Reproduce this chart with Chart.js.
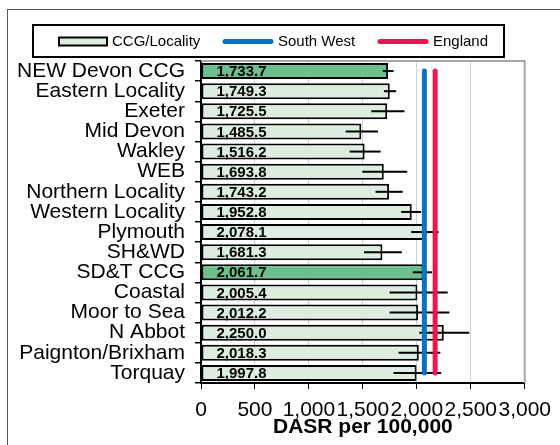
<!DOCTYPE html>
<html>
<head>
<meta charset="utf-8">
<script src="https://cdn.jsdelivr.net/npm/chart.js@4.4.1/dist/chart.umd.min.js"></script>
<style>
  html, body { margin: 0; padding: 0; background: #fff; }
  #wrap { width: 560px; height: 445px; }
</style>
</head>
<body>
<div id="wrap"><canvas id="myChart" width="560" height="445"></canvas></div>
<script>
const categories = [
  "NEW Devon CCG", "Eastern Locality", "Exeter", "Mid Devon", "Wakley", "WEB",
  "Northern Locality", "Western Locality", "Plymouth", "SH&WD", "SD&T CCG",
  "Coastal", "Moor to Sea", "N Abbot", "Paignton/Brixham", "Torquay"
];
const rateValues = [
  1733.7, 1749.3, 1725.5, 1485.5, 1516.2, 1693.8, 1743.2, 1952.8,
  2078.1, 1681.3, 2061.7, 2005.4, 2012.2, 2250.0, 2018.3, 1997.8
];
// confidence interval ends
const ciLower = [
  1685, 1695, 1578, 1341, 1378, 1495, 1618, 1855,
  1947, 1510, 1963, 1748, 1748, 2024, 1831, 1784
];
const ciUpper = [
  1785, 1809, 1886, 1640, 1664, 1911, 1870, 2040,
  2203, 1861, 2142, 2286, 2301, 2486, 2218, 2225
];
const southWest = [
  2070, 2070, 2070, 2070, 2070, 2070, 2070, 2070,
  2070, 2070, 2070, 2070, 2070, 2070, 2070, 2070
];
const england = [
  2170, 2170, 2170, 2170, 2170, 2170, 2170, 2170,
  2170, 2170, 2170, 2170, 2170, 2170, 2170, 2170
];
const ccgRows = ["NEW Devon CCG", "SD&T CCG"];

const lightGreen = "#DDEEE0";
const darkGreen = "#6CC08E";
const swBlue = "#0A72C4";
const engRed = "#E8174F";
const fontFam = '"Liberation Sans", Arial, sans-serif';

const fmt = (v) =>
  v.toLocaleString("en-US", { minimumFractionDigits: 1, maximumFractionDigits: 1 });

// outer frame + plot area edges
const frame = {
  id: "frame",
  beforeDraw(chart) {
    const ctx = chart.ctx;
    ctx.save();
    ctx.fillStyle = "#fff";
    ctx.fillRect(0, 0, chart.width, chart.height);
    ctx.strokeStyle = "#595959";
    ctx.lineWidth = 1;
    ctx.strokeRect(7.5, 9.5, 700, 600);
    ctx.restore();
  },
  beforeDatasetsDraw(chart) {
    const a = chart.chartArea;
    const ctx = chart.ctx;
    ctx.save();
    ctx.strokeStyle = "#a6a6a6";
    ctx.lineWidth = 2;
    ctx.beginPath();
    ctx.moveTo(a.left, a.top);
    ctx.lineTo(a.right, a.top);
    ctx.lineTo(a.right, a.bottom);
    ctx.stroke();
    ctx.restore();
  }
};

// whiskers and value labels, drawn right after the bars
const errorBars = {
  id: "errorBars",
  afterDatasetDraw(chart, args) {
    if (args.index !== 0) return;
    const ctx = chart.ctx;
    const x = chart.scales.x;
    const bars = args.meta.data;
    ctx.save();
    ctx.strokeStyle = "#000";
    ctx.lineWidth = 2;
    bars.forEach((bar, i) => {
      ctx.beginPath();
      ctx.moveTo(x.getPixelForValue(ciLower[i]), bar.y);
      ctx.lineTo(x.getPixelForValue(ciUpper[i]), bar.y);
      ctx.stroke();
    });
    ctx.font = "bold 15px " + fontFam;
    ctx.fillStyle = "#000";
    ctx.textBaseline = "middle";
    ctx.textAlign = "left";
    bars.forEach((bar, i) => {
      ctx.fillText(fmt(rateValues[i]), bar.base + 15, bar.y + 1);
    });
    ctx.restore();
  }
};

// boxed legend across the top
const boxLegend = {
  id: "boxLegend",
  afterDraw(chart) {
    const ctx = chart.ctx;
    const ds = chart.data.datasets;
    const cy = 41.5;
    ctx.save();
    ctx.fillStyle = "#fff";
    ctx.fillRect(33, 25, 471, 32);
    ctx.strokeStyle = "#000";
    ctx.lineWidth = 2;
    ctx.strokeRect(33, 25, 471, 32);

    ctx.fillStyle = lightGreen;
    ctx.fillRect(59, 37.5, 48, 8);
    ctx.strokeRect(59, 37.5, 48, 8);

    ctx.lineCap = "round";
    ctx.lineWidth = 5;
    ctx.strokeStyle = ds[1].borderColor;
    ctx.beginPath(); ctx.moveTo(225, cy); ctx.lineTo(271, cy); ctx.stroke();
    ctx.strokeStyle = ds[2].borderColor;
    ctx.beginPath(); ctx.moveTo(380, cy); ctx.lineTo(426, cy); ctx.stroke();

    ctx.font = "15px " + fontFam;
    ctx.fillStyle = "#000";
    ctx.textBaseline = "middle";
    ctx.fillText(ds[0].label, 112, cy);
    ctx.fillText(ds[1].label, 278, cy);
    ctx.fillText(ds[2].label, 433, cy);
    ctx.restore();
  }
};

const data = {
  labels: categories,
  datasets: [
    {
      type: "bar",
      label: "CCG/Locality",
      data: rateValues,
      backgroundColor: categories.map((c) => (ccgRows.includes(c) ? darkGreen : lightGreen)),
      borderColor: "#000",
      borderWidth: 2,
      borderSkipped: false,
      categoryPercentage: 1,
      barPercentage: 0.8,
      order: 3
    },
    {
      type: "line",
      label: "South West",
      data: southWest,
      borderColor: swBlue,
      borderWidth: 5,
      borderCapStyle: "round",
      pointRadius: 0,
      fill: false,
      order: 2
    },
    {
      type: "line",
      label: "England",
      data: england,
      borderColor: engRed,
      borderWidth: 5,
      borderCapStyle: "round",
      pointRadius: 0,
      fill: false,
      order: 1
    }
  ]
};

const config = {
  type: "bar",
  data: data,
  options: {
    indexAxis: "y",
    responsive: false,
    animation: false,
    layout: { padding: { top: 61, right: 35, bottom: 0, left: 0 } },
    plugins: {
      legend: { display: false },
      tooltip: { enabled: false }
    },
    scales: {
      x: {
        min: 0,
        max: 3000,
        ticks: {
          stepSize: 500,
          autoSkip: false,
          maxRotation: 0,
          padding: 9,
          color: "#000",
          font: { family: fontFam, size: 21 }
        },
        grid: { color: "#d0d0d0", tickColor: "#000", tickLength: 6, lineWidth: 1 },
        border: { color: "#000", width: 2 },
        title: {
          display: true,
          text: "DASR per 100,000",
          color: "#000",
          font: { family: fontFam, size: 21, weight: "bold" },
          padding: { top: 0, bottom: 5 }
        },
        afterFit: (scale) => { scale.height = 62; }
      },
      y: {
        ticks: {
          autoSkip: false,
          padding: 10,
          color: "#000",
          font: { family: fontFam, size: 21 }
        },
        grid: { drawOnChartArea: false, tickColor: "#000", tickLength: 6, lineWidth: 1.5 },
        border: { color: "#000", width: 2 },
        afterFit: (scale) => { scale.width = 201; }
      }
    }
  },
  plugins: [frame, errorBars, boxLegend]
};

const myChart = new Chart(document.getElementById("myChart"), config);
</script>
</body>
</html>
